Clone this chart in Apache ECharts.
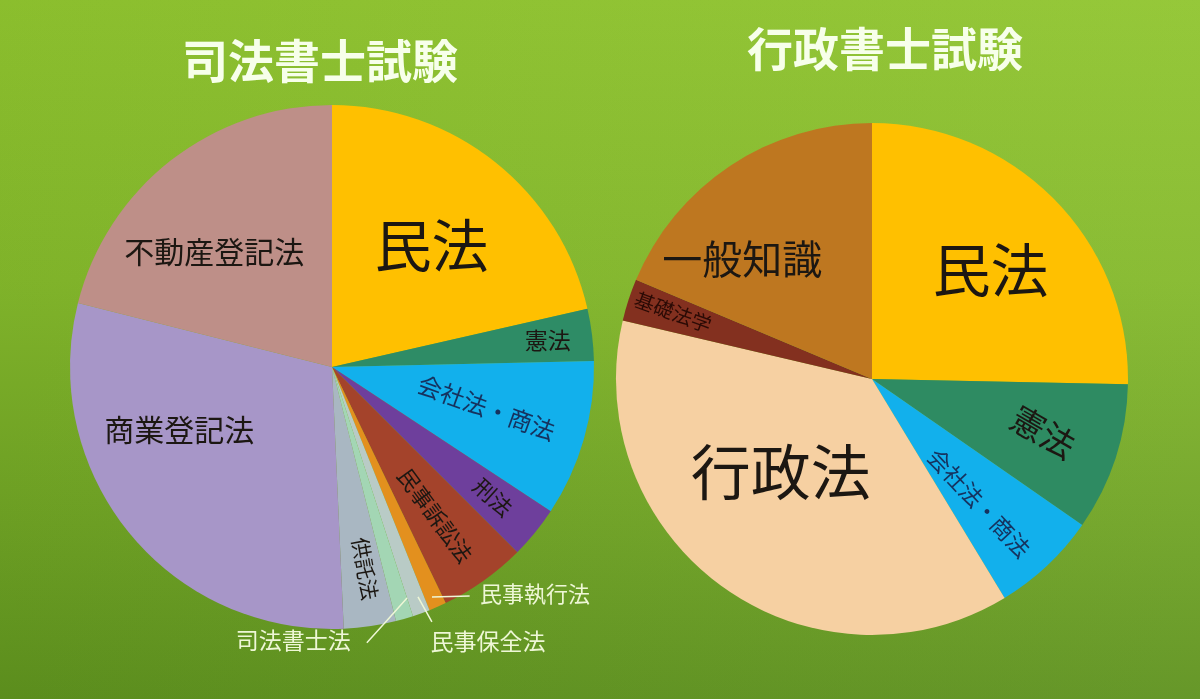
<!DOCTYPE html>
<html>
<head>
<meta charset="utf-8">
<script src="https://cdn.jsdelivr.net/npm/echarts@6/dist/echarts.min.js"></script>
<style>
html,body{margin:0;padding:0;width:1200px;height:699px;overflow:hidden;}
#chart{width:1200px;height:699px;
background:linear-gradient(to right, rgba(0,0,0,0.035), rgba(255,255,255,0.05)), linear-gradient(to bottom, #90C52F 0%, #84B92B 40%, #6FA324 75%, #5E921E 100%);}
</style>
</head>
<body>
<div id="chart"></div>
<script>
// ---- data ----
const titles = ['司法書士試験', '行政書士試験'];
const shihoSubjects = ['民法', '憲法', '会社法・商法', '刑法', '民事訴訟法', '民事執行法', '民事保全法', '司法書士法', '供託法', '商業登記法', '不動産登記法'];
const shihoPoints = [60, 9, 27, 9, 15, 3, 3, 3, 9, 83, 59];
const gyoseiSubjects = ['民法', '憲法', '会社法・商法', '行政法', '基礎法学', '一般知識'];
const gyoseiPoints = [76, 28, 20, 112, 8, 56];

// ---- styles ----
const shihoColors = ['#FFC000', '#2E8C66', '#12B0EC', '#6E3F9C', '#A4432B', '#E3901E', '#B9CBC6', '#A3D6B4', '#A9B7C2', '#A796C8', '#BE8F88'];
const gyoseiColors = ['#FFC000', '#2E8B62', '#12B0EC', '#F6D0A2', '#83301F', '#BE7720'];
const leftPie = {center: [332, 367], radius: 262};
const rightPie = {center: [872, 379], radius: 256};
const darkText = '#1C1712';
const outText = '#EEF7D6';
// label placement: a = angle (deg, clockwise from top), f = fraction of radius
const shihoLabelStyle = [
  {a: 39.3, f: 0.60, rot: 0, fs: 57},
  {a: 82.9, f: 0.83, rot: 0, fs: 23},
  {a: 104.8, f: 0.61, rot: -20, fs: 24, color: '#16325E'},
  {a: 129, f: 0.79, rot: -42, fs: 22},
  {a: 145.2, f: 0.69, rot: -54, fs: 22},
  {a: 138.1, f: 1.16, rot: 0, fs: 22, out: true, line: [[156.5, 0.957], [149, 1.02]]},
  {a: 150.4, f: 1.206, rot: 0, fs: 23, out: true, line: [[159.5, 0.937], [158.6, 1.045]]},
  {a: 188.1, f: 1.053, rot: 0, fs: 23, out: true, line: [[162, 0.927], [172.8, 1.061]]},
  {a: 170.7, f: 0.78, rot: -80, fs: 21},
  {a: 247.8, f: 0.63, rot: 0, fs: 30},
  {a: 314.5, f: 0.63, rot: 0, fs: 30}
];
const gyoseiLabelStyle = [
  {a: 47.3, f: 0.63, rot: 0, fs: 58},
  {a: 107.2, f: 0.70, rot: -30, fs: 34},
  {a: 139.2, f: 0.64, rot: -47, fs: 23, color: '#16325E'},
  {a: 224.4, f: 0.51, rot: 0, fs: 60},
  {a: 288.6, f: 0.82, rot: -20, fs: 20, color: '#2A0A05'},
  {a: 312.7, f: 0.69, rot: 0, fs: 40}
];

function polar(pie, a, f) {
  const t = a * Math.PI / 180;
  return [pie.center[0] + f * pie.radius * Math.sin(t), pie.center[1] - f * pie.radius * Math.cos(t)];
}

// sector data (no labels)
function sectorData(names, values, colors) {
  return names.map((n, i) => ({name: n, value: values[i], itemStyle: {color: colors[i]}}));
}
// transparent overlay carrying the labels and leader lines on top of all sectors
function labelData(names, values, styles) {
  return names.map((n, i) => {
    const s = styles[i];
    return {
      name: n,
      value: values[i],
      itemStyle: {color: 'rgba(0,0,0,0)'},
      label: {
        show: true,
        position: s.out ? 'outside' : 'inside',
        fontSize: s.fs,
        color: s.out ? outText : (s.color || darkText)
      },
      labelLine: {show: !!s.out, lineStyle: {color: outText, width: 1.5}}
    };
  });
}

function makeLayout(pie, styles) {
  return function (params) {
    const s = styles[params.dataIndex];
    const p = polar(pie, s.a, s.f);
    const res = {x: p[0], y: p[1], rotate: s.rot || 0, align: 'center', verticalAlign: 'middle'};
    if (s.out) {
      const p1 = polar(pie, s.line[0][0], s.line[0][1]);
      const p2 = polar(pie, s.line[1][0], s.line[1][1]);
      res.labelLinePoints = [p1, [(p1[0] + p2[0]) / 2, (p1[1] + p2[1]) / 2], p2];
    }
    return res;
  };
}

const chart = echarts.init(document.getElementById('chart'), null, {renderer: 'canvas'});
const fontFamily = '"Noto Sans CJK JP", "Noto Sans", sans-serif';

function pieBase(pie) {
  return {
    type: 'pie',
    center: pie.center,
    radius: pie.radius,
    startAngle: 90,
    clockwise: true,
    avoidLabelOverlap: false,
    silent: true,
    itemStyle: {borderWidth: 0}
  };
}

chart.setOption({
  backgroundColor: 'transparent',
  animation: false,
  textStyle: {fontFamily: fontFamily},
  graphic: [
    {type: 'text', x: 320, y: 61, style: {text: titles[0], align: 'center', verticalAlign: 'middle', fill: '#F7FFEA', font: 'bold 46px ' + fontFamily}},
    {type: 'text', x: 885, y: 49, style: {text: titles[1], align: 'center', verticalAlign: 'middle', fill: '#F7FFEA', font: 'bold 46px ' + fontFamily}}
  ],
  series: [
    Object.assign(pieBase(leftPie), {
      z: 2,
      label: {show: false},
      labelLine: {show: false},
      data: sectorData(shihoSubjects, shihoPoints, shihoColors)
    }),
    Object.assign(pieBase(rightPie), {
      z: 2,
      label: {show: false},
      labelLine: {show: false},
      data: sectorData(gyoseiSubjects, gyoseiPoints, gyoseiColors)
    }),
    Object.assign(pieBase(leftPie), {
      z: 5,
      label: {formatter: '{b}', fontFamily: fontFamily},
      labelLayout: makeLayout(leftPie, shihoLabelStyle),
      data: labelData(shihoSubjects, shihoPoints, shihoLabelStyle)
    }),
    Object.assign(pieBase(rightPie), {
      z: 5,
      label: {formatter: '{b}', fontFamily: fontFamily},
      labelLayout: makeLayout(rightPie, gyoseiLabelStyle),
      data: labelData(gyoseiSubjects, gyoseiPoints, gyoseiLabelStyle)
    })
  ]
});
</script>
</body>
</html>
